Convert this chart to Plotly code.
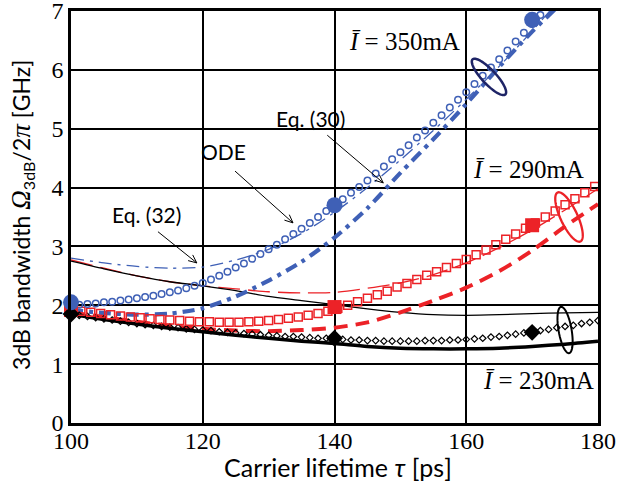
import numpy as np
import plotly.graph_objects as go

# ---------------------------------------------------------------- data
# ODE results (open markers), sampled on regular lifetime grids
tau_ode_350 = np.linspace(100, 172.5, 59)
ode_350 = [2.00, 2.01, 2.02, 2.03, 2.05, 2.06, 2.08, 2.10, 2.12, 2.14,
           2.16, 2.19, 2.22, 2.25, 2.29, 2.33, 2.38, 2.44, 2.50, 2.57,
           2.64, 2.71, 2.79, 2.87, 2.95, 3.03, 3.12, 3.21, 3.30, 3.40,
           3.50, 3.60, 3.70, 3.80, 3.91, 4.01, 4.12, 4.24, 4.36, 4.48,
           4.60, 4.72, 4.85, 4.97, 5.10, 5.23, 5.36, 5.49, 5.62, 5.76,
           5.90, 6.04, 6.18, 6.33, 6.48, 6.63, 6.78, 6.93, 7.08]

tau_ode_290 = np.linspace(100, 179.5, 54)
ode_290 = [1.92, 1.90, 1.88, 1.86, 1.84, 1.82, 1.80, 1.79, 1.77, 1.76,
           1.75, 1.74, 1.73, 1.72, 1.72, 1.71, 1.71, 1.71, 1.72, 1.73,
           1.74, 1.76, 1.78, 1.80, 1.83, 1.86, 1.90, 1.95, 2.00, 2.06,
           2.12, 2.18, 2.24, 2.31, 2.37, 2.44, 2.51, 2.57, 2.64, 2.71,
           2.78, 2.86, 2.94, 3.03, 3.12, 3.21, 3.31, 3.40, 3.50, 3.60,
           3.71, 3.81, 3.91, 4.02]

tau_ode_230 = np.linspace(100, 180, 65)
ode_230 = [1.85, 1.83, 1.81, 1.79, 1.77, 1.75, 1.73, 1.71, 1.69, 1.67,
           1.66, 1.64, 1.63, 1.62, 1.60, 1.59, 1.58, 1.57, 1.55, 1.54,
           1.53, 1.52, 1.51, 1.50, 1.49, 1.48, 1.47, 1.47, 1.46, 1.45,
           1.44, 1.44, 1.43, 1.42, 1.41, 1.41, 1.40, 1.40, 1.39, 1.39,
           1.39, 1.39, 1.39, 1.40, 1.40, 1.40, 1.41, 1.41, 1.42, 1.43,
           1.44, 1.46, 1.47, 1.49, 1.51, 1.53, 1.55, 1.57, 1.59, 1.62,
           1.64, 1.66, 1.69, 1.71, 1.74]

# Analytic curves, Eq. (30) (thick) and Eq. (32) (thin)
tau_eq = [100, 105, 110, 115, 120, 125, 130, 135, 140,
          145, 150, 155, 160, 165, 170, 175, 180]
eq30_350 = [1.92, 1.87, 1.84, 1.86, 1.95, 2.15, 2.42, 2.74, 3.15,
            3.65, 4.25, 4.82, 5.42, 6.05, 6.65, 7.20, 7.80]
eq32_350 = [2.80, 2.72, 2.66, 2.63, 2.65, 2.77, 2.95, 3.22, 3.58,
            4.00, 4.47, 4.97, 5.50, 6.06, 6.66, 7.30, 7.95]
eq30_290 = [1.88, 1.80, 1.72, 1.65, 1.60, 1.57, 1.56, 1.58, 1.62,
            1.71, 1.88, 2.08, 2.30, 2.58, 2.93, 3.34, 3.72]
eq32_290 = [2.77, 2.63, 2.50, 2.40, 2.33, 2.28, 2.23, 2.21, 2.22,
            2.29, 2.38, 2.52, 2.72, 2.98, 3.28, 3.62, 3.98]
eq30_230 = [1.85, 1.76, 1.68, 1.61, 1.55, 1.49, 1.44, 1.39, 1.35,
            1.30, 1.27, 1.26, 1.26, 1.27, 1.30, 1.34, 1.39]
eq32_230 = [2.75, 2.62, 2.50, 2.40, 2.33, 2.25, 2.15, 2.08, 2.01,
            1.94, 1.88, 1.84, 1.83, 1.84, 1.86, 1.87, 1.88]

# Highlighted points (filled markers)
tau_pts = [100, 140, 170]
pts_350 = [2.05, 3.70, 6.85]
pts_290 = [1.92, 1.97, 3.36]
pts_230 = [1.85, 1.44, 1.54]

x_ticks = [100, 120, 140, 160, 180]
y_ticks = [0, 1, 2, 3, 4, 5, 6, 7]

# ---------------------------------------------------------------- style
BLUE = "#3F60B6"
RED = "#EC2227"
BLACK = "#000000"
NAVY = "#1E2466"

W, H = 618, 492
ML, MR, MT, MB = 71, 20, 11, 69
X_RANGE = [100, 180]
Y_RANGE = [0, 7]
SX = (W - ML - MR) / (X_RANGE[1] - X_RANGE[0])   # px per ps
SY = (H - MT - MB) / (Y_RANGE[1] - Y_RANGE[0])   # px per GHz

fig = go.Figure()


def line(x, y, color, width, dash):
    fig.add_trace(go.Scatter(x=x, y=y, mode="lines",
                             line=dict(color=color, width=width, dash=dash,
                                       shape="spline", smoothing=0.8),
                             showlegend=False, hoverinfo="skip"))


# thin Eq. (32) curves
line(tau_eq, eq32_350, BLUE, 1.3, "13px,6px,3px,6px")
line(tau_eq, eq32_290, RED, 1.3, "22px,8px")
line(tau_eq, eq32_230, BLACK, 1.3, "solid")
# thick Eq. (30) curves
line(tau_eq, eq30_350, BLUE, 4.2, "12px,6px,4px,6px")
line(tau_eq, eq30_290, RED, 4.0, "14px,8px")
line(tau_eq, eq30_230, BLACK, 3.5, "solid")


def markers(x, y, color, symbol, size, lw, clip=True):
    fig.add_trace(go.Scatter(x=x, y=y, mode="markers", cliponaxis=clip,
                             marker=dict(symbol=symbol, size=size, color=color,
                                         line=dict(color=color, width=lw)),
                             showlegend=False, hoverinfo="skip"))


# ODE results
markers(tau_ode_230, ode_230, BLACK, "diamond-open", 5, 1.2)
markers(tau_ode_290, ode_290, RED, "square-open", 8, 1.5)
markers(tau_ode_350, ode_350, BLUE, "circle-open", 6.5, 1.5)
# filled highlight markers
markers(tau_pts, pts_290, RED, "square", 14, 0, clip=False)
markers(tau_pts, pts_230, BLACK, "diamond", 13, 0, clip=False)
markers(tau_pts, pts_350, BLUE, "circle", 16, 0, clip=False)


# ---------------------------------------------------------------- ellipses
def ellipse_path(cx, cy, a, b, ang):
    t = np.linspace(0, 2 * np.pi, 91)
    th = np.radians(ang)
    ex = a * np.cos(t) * np.cos(th) - b * np.sin(t) * np.sin(th)
    ey = a * np.cos(t) * np.sin(th) + b * np.sin(t) * np.cos(th)
    xs = cx + ex / SX
    ys = cy + ey / SY
    pts = [f"{xv:.4f},{yv:.4f}" for xv, yv in zip(xs, ys)]
    return "M " + " L ".join(pts) + " Z"


for cx, cy, a, b, ang, col, lw in [
        (163.45, 5.88, 24, 7, -47, NAVY, 2.5),
        (175.6, 3.50, 27, 8.5, -65, RED, 2.3),
        (175.0, 1.58, 23.5, 6.5, -80, BLACK, 2.0)]:
    fig.add_shape(type="path", path=ellipse_path(cx, cy, a, b, ang),
                  xref="x", yref="y", line=dict(color=col, width=lw))


# ---------------------------------------------------------------- arrows
def arrow_path(x0, y0, x1, y1, head=9, spread=24):
    dx, dy = (x1 - x0) * SX, (y1 - y0) * SY
    ang = np.arctan2(dy, dx)
    s = []
    for sgn in (1, -1):
        a2 = ang + np.pi + sgn * np.radians(spread)
        s.append((x1 + head * np.cos(a2) / SX, y1 + head * np.sin(a2) / SY))
    return (f"M {x0},{y0} L {x1},{y1} "
            f"M {s[0][0]:.4f},{s[0][1]:.4f} L {x1},{y1} L {s[1][0]:.4f},{s[1][1]:.4f}")


for x0, y0, x1, y1 in [(113.2, 3.25, 119.1, 2.72),
                       (124.9, 4.28, 133.7, 3.40),
                       (138.9, 4.89, 147.4, 4.08)]:
    fig.add_shape(type="path", path=arrow_path(x0, y0, x1, y1),
                  xref="x", yref="y", line=dict(color=BLACK, width=1))

# ---------------------------------------------------------------- labels
SANS = "Lato"
SERIF = "Liberation Serif"
for txt, x, y in [("Eq. (32)", 111.4, 3.55), ("ODE", 123.1, 4.62),
                  ("Eq. (30)", 136.4, 5.17)]:
    fig.add_annotation(x=x, y=y, text=txt, showarrow=False,
                       xanchor="center", yanchor="middle",
                       font=dict(family=SANS, size=21, color=BLACK))

for txt, x, y in [("<i>Ī</i> = 350mA", 150.7, 6.49),
                  ("<i>Ī</i> = 290mA", 169.4, 4.30),
                  ("<i>Ī</i> = 230mA", 170.9, 0.73)]:
    fig.add_annotation(x=x, y=y, text=txt, showarrow=False,
                       xanchor="center", yanchor="middle",
                       font=dict(family=SERIF, size=25, color=BLACK))

fig.add_annotation(xref="paper", yref="paper", x=0.506, y=-0.106,
                   xanchor="center", yanchor="middle",
                   text="Carrier lifetime <i>τ</i> [ps]", showarrow=False,
                   font=dict(family=SANS, size=25, color=BLACK))
fig.add_annotation(xref="paper", yref="paper", x=-0.093, y=0.505,
                   xanchor="center", yanchor="middle",
                   textangle=-90, showarrow=False,
                   text=("3dB bandwidth "
                         "<span style='font-family:Liberation Serif;font-size:27px'><i>Ω</i></span>"
                         "<sub>3dB</sub>/2"
                         "<span style='font-family:Liberation Serif;font-size:27px'><i>π</i></span>"
                         " [GHz]"),
                   font=dict(family=SANS, size=23, color=BLACK))

axis_common = dict(showgrid=True, gridcolor=BLACK, gridwidth=1.5,
                   showline=True, linecolor=BLACK, linewidth=2.5, mirror=True,
                   zeroline=False, ticks="", automargin=False,
                   ticklabeloverflow="allow",
                   tickfont=dict(family=SERIF, size=24, color=BLACK))
fig.update_xaxes(range=X_RANGE, tickvals=x_ticks, ticklabelstandoff=-6,
                 **axis_common)
fig.update_yaxes(range=Y_RANGE, tickvals=y_ticks, ticklabelstandoff=0,
                 **axis_common)

fig.update_layout(width=W, height=H,
                  margin=dict(l=ML, r=MR, t=MT, b=MB, pad=0),
                  paper_bgcolor="white", plot_bgcolor="white",
                  showlegend=False)

fig.write_html("out.html")
